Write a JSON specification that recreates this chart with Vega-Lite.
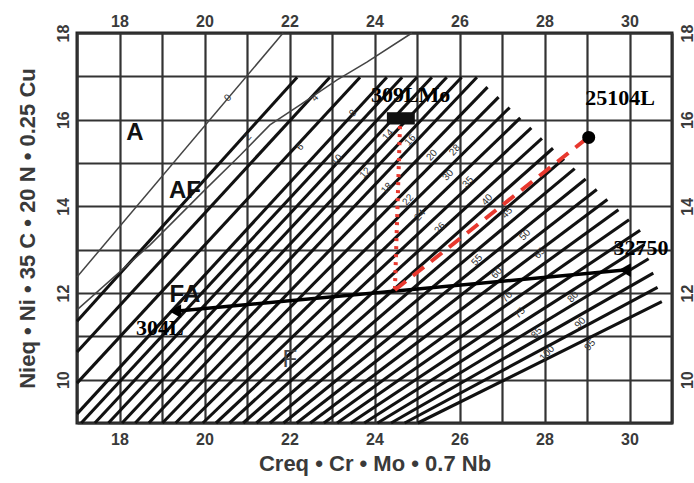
{
  "$schema": "https://vega.github.io/schema/vega-lite/v6.json",
  "width": 595,
  "height": 390,
  "autosize": {"type": "none"},
  "padding": {"left": 77, "top": 33, "right": 22, "bottom": 60},
  "background": "white",
  "config": {
    "view": {"stroke": "#222", "strokeWidth": 3},
    "axis": {"labelFont": "Liberation Sans", "titleFont": "Liberation Sans", "domain": false, "ticks": false, "labelFlush": false, "labelOverlap": false}
  },
  "datasets": {
    "hatch": [
      {"x": 17, "y": 11.35, "x2": 22.18, "y2": 16.98},
      {"x": 17, "y": 10.64, "x2": 22.95, "y2": 16.98},
      {"x": 17, "y": 9.92, "x2": 23.66, "y2": 16.98},
      {"x": 17, "y": 9.21, "x2": 24.29, "y2": 16.98},
      {"x": 17.10, "y": 9, "x2": 24.65, "y2": 16.98},
      {"x": 17.42, "y": 9, "x2": 25.00, "y2": 16.98},
      {"x": 17.74, "y": 9, "x2": 25.35, "y2": 16.98},
      {"x": 18.06, "y": 9, "x2": 25.70, "y2": 16.98},
      {"x": 18.37, "y": 9, "x2": 26.05, "y2": 16.98},
      {"x": 18.69, "y": 9, "x2": 26.41, "y2": 16.98},
      {"x": 19.01, "y": 9, "x2": 26.66, "y2": 16.75},
      {"x": 19.32, "y": 9, "x2": 26.92, "y2": 16.52},
      {"x": 19.64, "y": 9, "x2": 27.18, "y2": 16.28},
      {"x": 19.96, "y": 9, "x2": 27.43, "y2": 16.04},
      {"x": 20.27, "y": 9, "x2": 27.69, "y2": 15.81},
      {"x": 20.59, "y": 9, "x2": 27.94, "y2": 15.57},
      {"x": 20.91, "y": 9, "x2": 28.20, "y2": 15.34},
      {"x": 21.22, "y": 9, "x2": 28.46, "y2": 15.10},
      {"x": 21.54, "y": 9, "x2": 28.71, "y2": 14.87},
      {"x": 21.86, "y": 9, "x2": 28.97, "y2": 14.63},
      {"x": 22.17, "y": 9, "x2": 29.23, "y2": 14.39},
      {"x": 22.49, "y": 9, "x2": 29.48, "y2": 14.16},
      {"x": 22.81, "y": 9, "x2": 29.74, "y2": 13.92},
      {"x": 23.12, "y": 9, "x2": 29.99, "y2": 13.69},
      {"x": 23.44, "y": 9, "x2": 30.25, "y2": 13.45},
      {"x": 23.76, "y": 9, "x2": 30.35, "y2": 13.12},
      {"x": 24.07, "y": 9, "x2": 30.45, "y2": 12.79},
      {"x": 24.39, "y": 9, "x2": 30.56, "y2": 12.46},
      {"x": 24.71, "y": 9, "x2": 30.66, "y2": 12.13},
      {"x": 25.02, "y": 9, "x2": 30.76, "y2": 11.80}
    ],
    "zero": [
      {"x": 17, "y": 12.37, "x2": 21.85, "y2": 18}
    ],
    "curve": [
      {"o": 1, "x": 24.88, "y": 18},
      {"o": 2, "x": 23.82, "y": 17.33},
      {"o": 3, "x": 23.12, "y": 16.92},
      {"o": 4, "x": 22.25, "y": 16.34},
      {"o": 5, "x": 21.54, "y": 15.88},
      {"o": 6, "x": 20.84, "y": 15.18},
      {"o": 7, "x": 20.01, "y": 14.38},
      {"o": 8, "x": 18.72, "y": 13.11},
      {"o": 9, "x": 17, "y": 11.61}
    ],
    "fn": [
      {"t": "0", "x": 20.55, "y": 16.50},
      {"t": "2", "x": 21.02, "y": 15.60},
      {"t": "4", "x": 22.60, "y": 16.50},
      {"t": "6", "x": 22.25, "y": 15.37},
      {"t": "8", "x": 23.49, "y": 16.15},
      {"t": "10", "x": 23.12, "y": 15.07},
      {"t": "12", "x": 23.78, "y": 14.77},
      {"t": "14", "x": 24.32, "y": 15.65},
      {"t": "16", "x": 24.84, "y": 15.53},
      {"t": "18", "x": 24.29, "y": 14.42},
      {"t": "20", "x": 25.35, "y": 15.18},
      {"t": "22", "x": 24.79, "y": 14.15},
      {"t": "24", "x": 25.07, "y": 13.80},
      {"t": "26", "x": 25.54, "y": 13.50},
      {"t": "28", "x": 25.89, "y": 15.30},
      {"t": "30", "x": 25.73, "y": 14.72},
      {"t": "35", "x": 26.20, "y": 14.56},
      {"t": "40", "x": 26.65, "y": 14.15},
      {"t": "45", "x": 27.12, "y": 13.85},
      {"t": "50", "x": 27.54, "y": 13.34},
      {"t": "55", "x": 26.41, "y": 12.76},
      {"t": "60", "x": 26.88, "y": 12.46},
      {"t": "65", "x": 27.89, "y": 12.92},
      {"t": "70", "x": 27.12, "y": 11.91},
      {"t": "75", "x": 27.42, "y": 11.54},
      {"t": "80", "x": 28.67, "y": 11.91},
      {"t": "85", "x": 27.82, "y": 11.08},
      {"t": "90", "x": 28.84, "y": 11.31},
      {"t": "95", "x": 29.07, "y": 10.80},
      {"t": "100", "x": 28.06, "y": 10.61}
    ],
    "regions": [
      {"t": "A", "x": 18.36, "y": 15.69},
      {"t": "AF", "x": 19.54, "y": 14.35},
      {"t": "FA", "x": 19.54, "y": 11.95}
    ],
    "regionF": [
      {"t": "F", "x": 22.01, "y": 10.45}
    ],
    "blackLine": [
      {"x": 19.31, "y": 11.58, "x2": 29.89, "y2": 12.53}
    ],
    "redDotted": [
      {"x": 24.60, "y": 15.85, "x2": 24.48, "y2": 12.07}
    ],
    "redDashed": [
      {"x": 24.48, "y": 12.07, "x2": 28.95, "y2": 15.53}
    ],
    "alloys": [
      {"name": "304L", "x": 19.31, "y": 11.58, "lx": 18.95, "ly": 11.19},
      {"name": "309LMo", "x": 24.62, "y": 16.03, "lx": 24.85, "ly": 16.58},
      {"name": "25104L", "x": 29.04, "y": 15.59, "lx": 29.78, "ly": 16.50},
      {"name": "32750", "x": 29.89, "y": 12.53, "lx": 30.27, "ly": 13.04}
    ]
  },
  "encoding": {
    "x": {"field": "x", "type": "quantitative", "scale": {"domain": [17, 31], "nice": false, "zero": false}, "axis": null},
    "y": {"field": "y", "type": "quantitative", "scale": {"domain": [9, 18], "nice": false, "zero": false}, "axis": null}
  },
  "layer": [
    {
      "data": {"name": "hatch"},
      "mark": {"type": "rule", "color": "#111", "strokeWidth": 3.1},
      "encoding": {
        "x": {"field": "x", "type": "quantitative", "scale": {"domain": [17, 31], "nice": false, "zero": false},
          "axis": {"orient": "bottom", "values": [17,18,19,20,21,22,23,24,25,26,27,28,29,30,31], "grid": true, "gridColor": "#333", "gridWidth": 2.2, "gridOpacity": 1,
            "labelExpr": "datum.value % 2 == 0 && datum.value >= 18 && datum.value <= 30 ? datum.label : ''",
            "labelFontSize": 16, "labelFontWeight": "bold", "labelColor": "#3a3a3a", "labelPadding": 8,
            "title": "Creq • Cr • Mo • 0.7 Nb", "titleFontSize": 22, "titleFontWeight": "bold", "titleColor": "#3a3a3a", "titlePadding": 6}},
        "y": {"field": "y", "type": "quantitative", "scale": {"domain": [9, 18], "nice": false, "zero": false},
          "axis": {"orient": "left", "values": [9,10,11,12,13,14,15,16,17,18], "grid": true, "gridColor": "#333", "gridWidth": 2.2, "gridOpacity": 1,
            "labelExpr": "datum.value % 2 == 0 && datum.value >= 10 ? datum.label : ''",
            "labelFontSize": 16, "labelFontWeight": "bold", "labelColor": "#3a3a3a", "labelPadding": 6,
            "labelAngle": 270, "labelAlign": "center", "labelBaseline": "bottom",
            "title": "Nieq • Ni • 35 C • 20 N • 0.25 Cu", "titleFontSize": 22, "titleFontWeight": "bold", "titleColor": "#3a3a3a", "titlePadding": 16}},
        "x2": {"field": "x2"},
        "y2": {"field": "y2"}
      }
    },
    {
      "data": {"name": "zero"},
      "mark": {"type": "rule", "color": "#444", "strokeWidth": 1.5},
      "encoding": {
        "x": {"field": "x", "type": "quantitative", "scale": {"domain": [17, 31], "nice": false, "zero": false},
          "axis": {"orient": "top", "values": [17,18,19,20,21,22,23,24,25,26,27,28,29,30,31], "grid": false,
            "labelExpr": "datum.value % 2 == 0 && datum.value >= 18 && datum.value <= 30 ? datum.label : ''",
            "labelFontSize": 16, "labelFontWeight": "bold", "labelColor": "#3a3a3a", "labelPadding": 4, "title": null}},
        "y": {"field": "y", "type": "quantitative", "scale": {"domain": [9, 18], "nice": false, "zero": false},
          "axis": {"orient": "right", "values": [9,10,11,12,13,14,15,16,17,18], "grid": false,
            "labelExpr": "datum.value % 2 == 0 && datum.value >= 10 ? datum.label : ''",
            "labelFontSize": 16, "labelFontWeight": "bold", "labelColor": "#3a3a3a", "labelPadding": 7,
            "labelAngle": 270, "labelAlign": "center", "labelBaseline": "top", "title": null}},
        "x2": {"field": "x2"},
        "y2": {"field": "y2"}
      }
    },
    {
      "data": {"name": "curve"},
      "mark": {"type": "line", "color": "#444", "strokeWidth": 1.5},
      "encoding": {"order": {"field": "o", "type": "quantitative"}}
    },
    {
      "data": {"name": "fn"},
      "mark": {"type": "text", "font": "Liberation Sans", "fontSize": 10, "angle": 312, "color": "#333"},
      "encoding": {"text": {"field": "t"}}
    },
    {
      "data": {"name": "regions"},
      "mark": {"type": "text", "font": "Liberation Sans", "fontSize": 24, "fontWeight": "bold", "color": "#111"},
      "encoding": {"text": {"field": "t"}}
    },
    {
      "data": {"name": "regionF"},
      "mark": {"type": "text", "font": "Liberation Sans", "fontSize": 24, "color": "#444"},
      "encoding": {"text": {"field": "t"}}
    },
    {
      "data": {"name": "blackLine"},
      "mark": {"type": "rule", "color": "#000", "strokeWidth": 3.5},
      "encoding": {"x2": {"field": "x2"}, "y2": {"field": "y2"}}
    },
    {
      "data": {"name": "redDotted"},
      "mark": {"type": "rule", "color": "#e8382e", "strokeWidth": 4, "strokeDash": [3, 5]},
      "encoding": {"x2": {"field": "x2"}, "y2": {"field": "y2"}}
    },
    {
      "data": {"name": "redDashed"},
      "mark": {"type": "rule", "color": "#e8382e", "strokeWidth": 4, "strokeDash": [14, 9]},
      "encoding": {"x2": {"field": "x2"}, "y2": {"field": "y2"}}
    },
    {
      "data": {"name": "alloys"},
      "transform": [{"filter": "datum.name == '309LMo'"}],
      "mark": {"type": "point", "filled": true, "color": "#111", "opacity": 1, "size": 500, "shape": "M-1.25,-0.55L1.25,-0.55L1.25,0.55L-1.25,0.55Z"}
    },
    {
      "data": {"name": "alloys"},
      "transform": [{"filter": "datum.name == '25104L'"}],
      "mark": {"type": "point", "filled": true, "color": "#000", "opacity": 1, "size": 170, "shape": "circle"}
    },
    {
      "data": {"name": "alloys"},
      "transform": [{"filter": "datum.name == '304L' || datum.name == '32750'"}],
      "mark": {"type": "point", "filled": true, "color": "#000", "opacity": 1, "size": 190, "shape": "triangle-left"}
    },
    {
      "data": {"name": "alloys"},
      "mark": {"type": "text", "font": "Liberation Serif", "fontSize": 22, "fontWeight": "bold", "color": "#000"},
      "encoding": {
        "x": {"field": "lx", "type": "quantitative"},
        "y": {"field": "ly", "type": "quantitative"},
        "text": {"field": "name"}
      }
    }
  ]
}
